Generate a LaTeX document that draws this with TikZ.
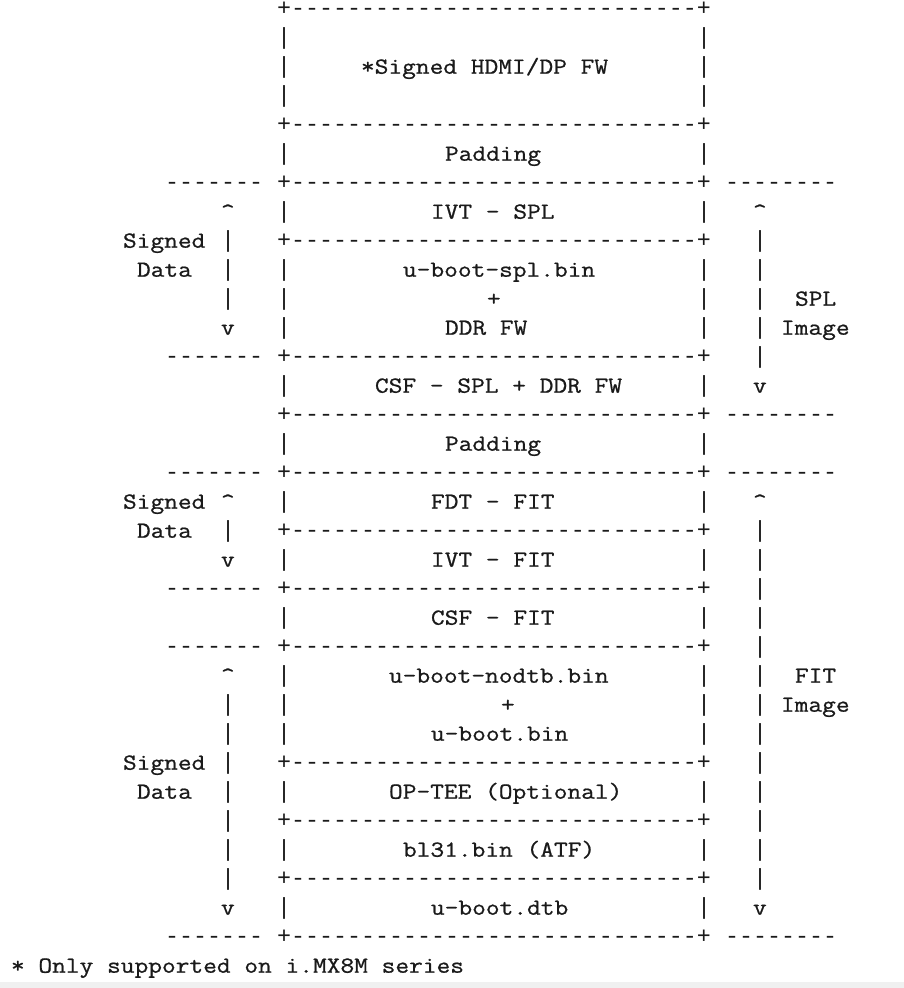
\documentclass[tikz,border=0pt]{standalone}
\usepackage{fontspec}
\newfontfamily\asciifont{Latin Modern Mono}[FakeStretch=1.159, FakeBold=0.8]
\newfontfamily\rulefont{Liberation Mono}
\definecolor{stripgrey}{HTML}{F0F0F0}
\definecolor{ink}{HTML}{1A1A1A}
\tikzset{
  ascii/.style={anchor=base west, inner sep=0pt, outer sep=0pt,
    font=\asciifont\fontsize{23}{29}\selectfont, text=ink},
  rule/.style={anchor=base west, inner sep=0pt, outer sep=0pt,
    font=\rulefont\fontsize{23.333}{29}\selectfont, text=ink},
}
\newcommand{\bordr}{+-----------------------------+}
\newcommand{\ldash}{-------}
\newcommand{\rdash}{--------}
\begin{document}
\begin{tikzpicture}
\useasboundingbox (0pt,0pt) rectangle (904pt,-988pt);
\fill[stripgrey] (0pt,-982pt) rectangle (904pt,-988pt);
\begin{scope}[shift={(11pt,-15.7pt)}, x=14pt, y=-29pt]
  % box borders
  \foreach \r in {0,4,6,8,12,14,16,18,20,22,26,28,30,32}
    \node[rule] (b\r) at (19,\r) {\bordr};
  % box sides
  \foreach \r in {1,2,3,5,7,9,10,11,13,15,17,19,21,23,24,25,27,29,31} {
    \node[rule] (sl\r) at (19,\r) {|};
    \node[rule] (sr\r) at (49,\r) {|};
  }
  % left dashes
  \foreach \r in {6,12,16,20,22,32}
    \node[rule] (ld\r) at (11,\r) {\ldash};
  % right dashes
  \foreach \r in {6,14,16,32}
    \node[rule] (rd\r) at (51,\r) {\rdash};
  % right arrows
  \foreach \r in {7,17}
    \node[ascii] (ru\r) at (53,\r) {\textasciicircum};
  \foreach \r in {8,9,10,11,12,18,19,20,21,22,23,24,25,26,27,28,29,30}
    \node[rule] (rv\r) at (53,\r) {|};
  \foreach \r in {13,31}
    \node[ascii] (rdn\r) at (53,\r) {v};
  % left arrows
  \foreach \r in {7,17,23}
    \node[ascii] (lu\r) at (15,\r) {\textasciicircum};
  \foreach \r in {8,9,10,18,24,25,26,27,28,29,30}
    \node[rule] (lv\r) at (15,\r) {|};
  \foreach \r in {11,19,31}
    \node[ascii] (ldn\r) at (15,\r) {v};
  % left labels
  \foreach \r in {8,17,26}
    \node[ascii] (sg\r) at (8,\r) {Signed};
  \foreach \r in {9,18,27}
    \node[ascii] (dt\r) at (9,\r) {Data};
  % right labels
  \node[ascii] (splA) at (56,10) {SPL};
  \node[ascii] (splB) at (55,11) {Image};
  \node[ascii] (fitA) at (56,23) {FIT};
  \node[ascii] (fitB) at (55,24) {Image};
  % box contents
  \node[ascii] (hdmi) at (25,2) {*Signed HDMI/DP FW};
  \node[ascii] (pad1) at (31,5) {Padding};
  \node[ascii] (ivts) at (30,7) {IVT - SPL};
  \node[ascii] (spl)  at (28,9) {u-boot-spl.bin};
  \node[ascii] (pl1)  at (34,10) {+};
  \node[ascii] (ddr)  at (31,11) {DDR FW};
  \node[ascii] (csfs) at (26,13) {CSF - SPL + DDR FW};
  \node[ascii] (pad2) at (31,15) {Padding};
  \node[ascii] (fdt)  at (30,17) {FDT - FIT};
  \node[ascii] (ivtf) at (30,19) {IVT - FIT};
  \node[ascii] (csff) at (30,21) {CSF - FIT};
  \node[ascii] (nodtb) at (27,23) {u-boot-nodtb.bin};
  \node[ascii] (pl2)  at (35,24) {+};
  \node[ascii] (ubin) at (30,25) {u-boot.bin};
  \node[ascii] (optee) at (27,27) {OP-TEE (Optional)};
  \node[ascii] (bl31) at (28,29) {bl31.bin (ATF)};
  \node[ascii] (udtb) at (30,31) {u-boot.dtb};
  % footnote
  \node[ascii] (foot) at (0,33) {* Only supported on i.MX8M series};
\end{scope}
\end{tikzpicture}
\end{document}
